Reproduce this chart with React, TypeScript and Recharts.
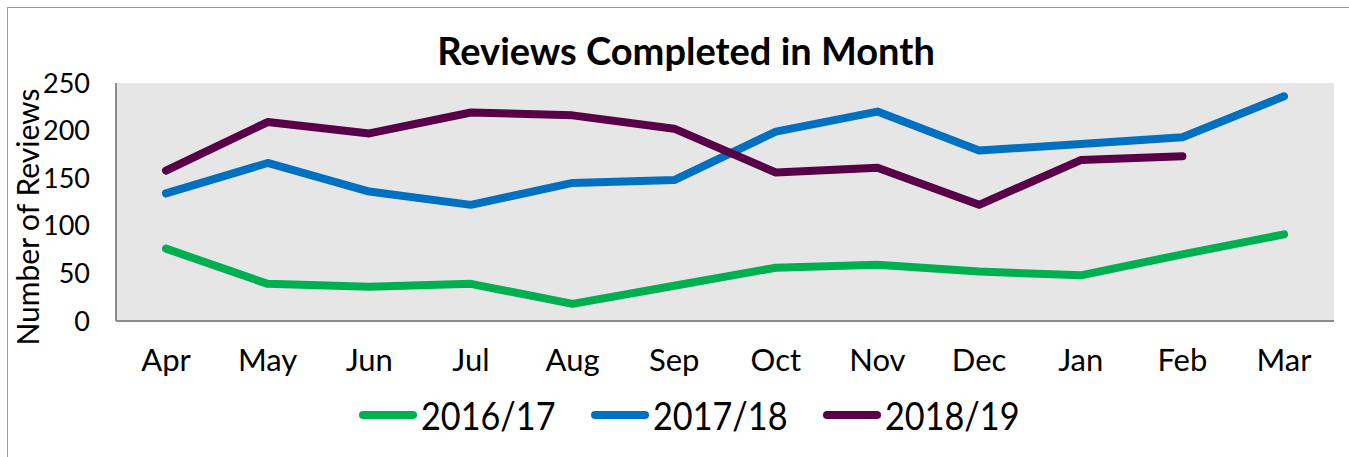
import React from 'react';
import { LineChart, Line, XAxis, YAxis, Legend } from 'recharts';

// Months in the financial year
const months = ['Apr', 'May', 'Jun', 'Jul', 'Aug', 'Sep', 'Oct', 'Nov', 'Dec', 'Jan', 'Feb', 'Mar'];

// Reviews per month
const fy1617 = [76, 39, 36, 39, 18, 37, 56, 59, 52, 48, 70, 91];
const fy1718 = [134, 166, 136, 122, 145, 148, 199, 220, 179, 186, 193, 236];
const fy1819 = [158, 209, 197, 219, 216, 202, 156, 161, 122, 169, 173, null];

const yTicks = [0, 50, 100, 150, 200, 250];

const seriesList = [
    { key: 'fy1617', name: '2016/17', color: '#00B050' },
    { key: 'fy1718', name: '2017/18', color: '#0070C0' },
    { key: 'fy1819', name: '2018/19', color: '#580048' },
];

const data = months.map((m, i) => ({
    month: m,
    fy1617: fy1617[i],
    fy1718: fy1718[i],
    fy1819: fy1819[i],
}));

const FONT = 'Lato, "Open Sans", sans-serif';

function LegendContent() {
    return (
        <div style={{ display: 'flex', paddingLeft: 359, height: 60, fontFamily: FONT }}>
            {seriesList.map(s => (
                <div key={s.key} style={{ display: 'flex', alignItems: 'center', width: 232, height: 36 }}>
                    <div style={{ width: 58, height: 8, borderRadius: 4, background: s.color, marginRight: 4 }} />
                    <span style={{ fontSize: 38, color: '#000', display: 'inline-block', transform: 'scaleX(0.9)', transformOrigin: 'left center', lineHeight: '36px' }}>
                        {s.name}
                    </span>
                </div>
            ))}
        </div>
    );
}

export default function App() {
    return (
        <div style={{ position: 'absolute', left: 0, top: 0, width: 1349, height: 457, overflow: 'hidden', background: '#fff' }}>
            <div style={{ position: 'absolute', left: 7, top: 7, width: 1360, height: 470, border: '1px solid #9a9a9a' }} />
            <div style={{ position: 'absolute', left: 386, top: 28, width: 600, textAlign: 'center', fontFamily: FONT, fontWeight: 'bold', fontSize: 38, lineHeight: 1.2, color: '#000' }}>
                Reviews Completed in Month
            </div>
            <div style={{ position: 'absolute', left: 0, top: 0 }}>
                <LineChart width={1349} height={457} data={data} margin={{ top: 83, right: 15, left: 0, bottom: 0 }}>
                    <rect x={116} y={83} width={1218} height={238} fill="#E6E6E6" />
                    <XAxis
                        dataKey="month"
                        height={76}
                        padding={{ left: 50, right: 50 }}
                        tickSize={0}
                        tickMargin={28}
                        axisLine={{ stroke: '#8c8c8c', strokeWidth: 2 }}
                        tick={{ fill: '#000', fontSize: 31, fontFamily: FONT }}
                    />
                    <YAxis
                        width={116}
                        domain={[0, 250]}
                        ticks={yTicks}
                        tickSize={0}
                        tickMargin={26}
                        axisLine={{ stroke: '#8c8c8c', strokeWidth: 2 }}
                        tick={{ fill: '#000', fontSize: 27, fontFamily: FONT }}
                        label={{
                            content: () => (
                                <text x={27} y={217} transform="rotate(-90, 27, 217)" textAnchor="middle" dominantBaseline="central"
                                    fontSize={30} fontFamily={FONT} fill="#000">
                                    Number of Reviews
                                </text>
                            ),
                        }}
                    />
                    <Legend verticalAlign="bottom" wrapperStyle={{ height: 60 }} content={<LegendContent />} />
                    {seriesList.map(s => (
                        <Line
                            key={s.key}
                            dataKey={s.key}
                            name={s.name}
                            stroke={s.color}
                            strokeWidth={8}
                            strokeLinecap="round"
                            strokeLinejoin="round"
                            dot={false}
                            activeDot={false}
                            type="linear"
                            isAnimationActive={false}
                        />
                    ))}
                </LineChart>
            </div>
        </div>
    );
}
